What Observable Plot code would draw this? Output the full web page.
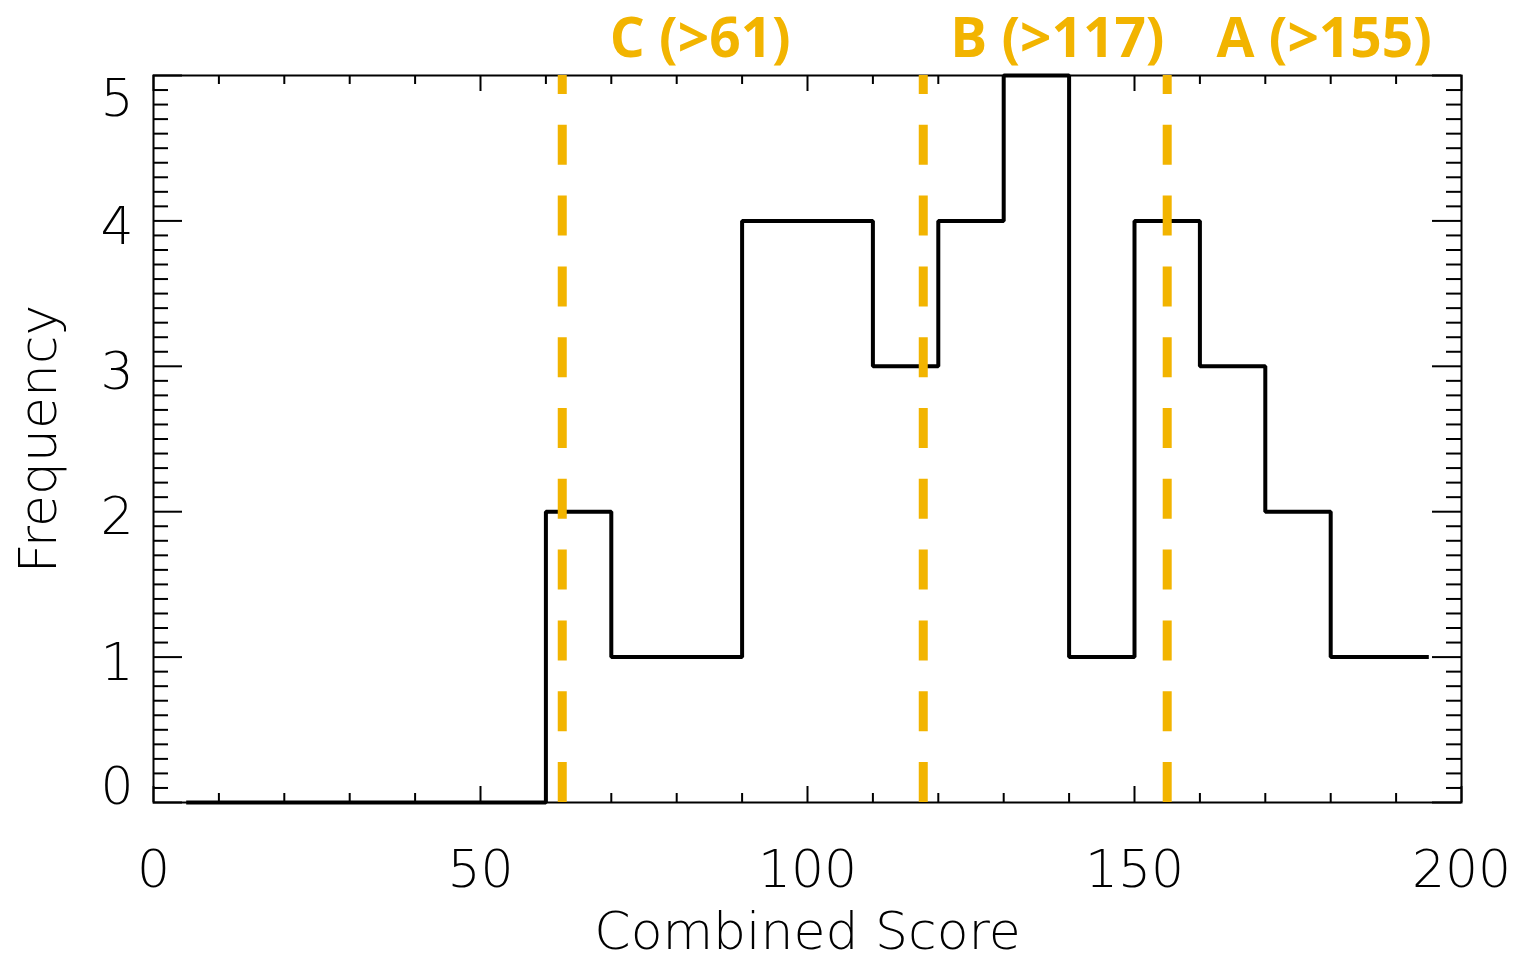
<!DOCTYPE html>
<html>
<head>
<meta charset="utf-8">
<script src="https://cdn.jsdelivr.net/npm/d3@7"></script>
<script src="https://cdn.jsdelivr.net/npm/@observablehq/plot@0.6"></script>
<style>
  body { margin: 0; background: #fff; }
  g[aria-label="grades"] text { font-variant-numeric: oldstyle-nums; font-feature-settings: "onum" 1; }
  g[aria-label="thresholds"] { filter: drop-shadow(2px 3px 2px rgba(0,0,0,0.25)); }
</style>
</head>
<body>
<div id="chart"></div>
<script>
// Histogram bin centers (bin width 10) and counts
const binCenters = [5, 15, 25, 35, 45, 55, 65, 75, 85, 95, 105, 115, 125, 135, 145, 155, 165, 175, 185, 195];
const frequency  = [0, 0, 0, 0, 0, 0, 2, 1, 1, 4, 4, 3, 4, 5, 1, 4, 3, 2, 1, 1];

// Axis ticks
const xTickLabels = [0, 50, 100, 150, 200];
const yTickLabels = [0, 1, 2, 3, 4, 5];

// Grade thresholds (dashed lines) and their labels
const thresholds  = [62.5, 117.7, 155];
const gradeLabels = ["C (>61)", "B (>117)", "A (>155)"];
const gradeLabelX = [83.6, 138.2, 179];

const W = 1519, H = 961;
const mL = 153, mR = 58, mT = 75, mB = 159;
const plotW = W - mL - mR, plotH = H - mT - mB;
const ink = "black";
const orange = "#f2b400";
const font = '"DejaVu Sans", sans-serif';

const xMinor = d3.range(0, 201, 10).filter(d => !xTickLabels.includes(d));
const yMinor = d3.range(1, 50).map(d => d / 10).filter(d => !Number.isInteger(d));

const hist = binCenters.map((x, i) => ({x, y: frequency[i]}));
const grades = gradeLabels.map((t, i) => ({t, x: gradeLabelX[i]}));

const chart = Plot.plot({
  width: W, height: H,
  marginLeft: mL, marginRight: mR, marginTop: mT, marginBottom: mB,
  style: {fontFamily: font, fontWeight: 200, background: "white", overflow: "visible", color: ink},
  x: {domain: [0, 200], axis: null},
  y: {domain: [0, 5], axis: null},
  marks: [
    // x ticks (inward, bottom and top)
    Plot.ruleX(xTickLabels, {x: d => d, insetTop: plotH - 16, stroke: ink, strokeWidth: 2}),
    Plot.ruleX(xTickLabels, {x: d => d, insetBottom: plotH - 16, stroke: ink, strokeWidth: 2}),
    Plot.ruleX(xMinor, {x: d => d, insetTop: plotH - 9, stroke: ink, strokeWidth: 2}),
    Plot.ruleX(xMinor, {x: d => d, insetBottom: plotH - 9, stroke: ink, strokeWidth: 2}),
    // y ticks (inward, left and right)
    Plot.ruleY(yTickLabels, {y: d => d, insetRight: plotW - 29, stroke: ink, strokeWidth: 2}),
    Plot.ruleY(yTickLabels, {y: d => d, insetLeft: plotW - 29, stroke: ink, strokeWidth: 2}),
    Plot.ruleY(yMinor, {y: d => d, insetRight: plotW - 15, stroke: ink, strokeWidth: 2}),
    Plot.ruleY(yMinor, {y: d => d, insetLeft: plotW - 15, stroke: ink, strokeWidth: 2}),
    Plot.frame({stroke: ink, strokeWidth: 2}),
    // histogram (IDL psym=10 style step)
    Plot.line(hist, {x: "x", y: "y", curve: "step", stroke: ink, strokeWidth: 4, strokeLinejoin: "miter", strokeLinecap: "butt"}),
    // thresholds
    Plot.ruleX(thresholds, {x: d => d, y1: () => 0, y2: () => 5, stroke: orange, strokeWidth: 9, strokeDasharray: "40,30.8", ariaLabel: "thresholds"}),
    // tick labels
    Plot.text(xTickLabels, {x: d => d, text: d => String(d), frameAnchor: "bottom", dy: 68, lineAnchor: "middle", fontSize: 52, fill: ink}),
    Plot.text(yTickLabels.filter(d => d > 0 && d < 5), {y: d => d, text: d => String(d), frameAnchor: "left", dx: -20, dy: 6, textAnchor: "end", lineAnchor: "middle", fontSize: 52, fill: ink}),
    Plot.text(yTickLabels.filter(d => d === 0), {y: d => d, text: d => String(d), frameAnchor: "left", dx: -20, dy: -15, textAnchor: "end", lineAnchor: "middle", fontSize: 52, fill: ink}),
    Plot.text(yTickLabels.filter(d => d === 5), {y: d => d, text: d => String(d), frameAnchor: "left", dx: -20, dy: 23.5, textAnchor: "end", lineAnchor: "middle", fontSize: 52, fill: ink}),
    // axis titles
    Plot.text(["Combined Score"], {text: d => d, frameAnchor: "bottom", dy: 130, textAnchor: "middle", lineAnchor: "middle", fontSize: 52, fill: ink}),
    Plot.text(["Frequency"], {text: d => d, frameAnchor: "left", dx: -114.6, rotate: -90, textAnchor: "middle", lineAnchor: "middle", fontSize: 52, fill: ink}),
    // grade labels
    Plot.text(grades, {x: "x", text: "t", frameAnchor: "top", dy: -36, textAnchor: "middle", lineAnchor: "middle", fontFamily: "'Open Sans', Lato, sans-serif", fontWeight: 700, fontSize: 55, fill: orange, ariaLabel: "grades"})
  ]
});
document.getElementById("chart").appendChild(chart);
</script>
</body>
</html>
